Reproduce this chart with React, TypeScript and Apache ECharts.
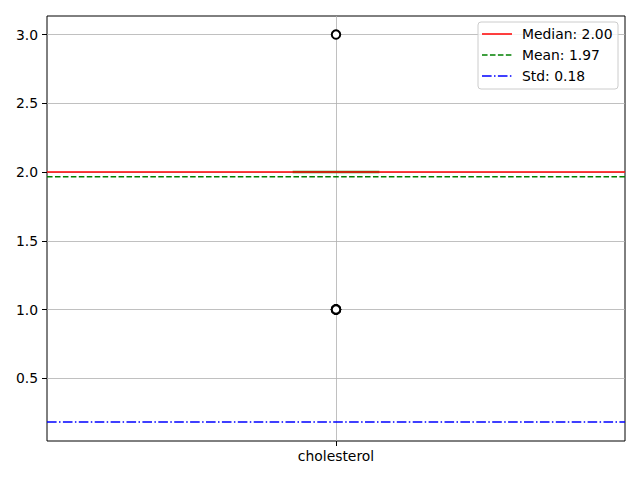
import React, { useEffect, useRef } from "react";
import * as echarts from "echarts";

const category = "cholesterol";
const categoryPos = 1;
const xRange = [0.5, 1.5];
const yRange = [0.044, 3.135];
const yTicks = [0.5, 1.0, 1.5, 2.0, 2.5, 3.0];
const boxValue = 2.0; // q1 = median = q3 = whiskers
const boxHalfWidth = 0.075;
const fliers = [3, 1, 1, 1, 1, 1];
const statLabels = ["Median: 2.00", "Mean: 1.97", "Std: 0.18"];
const statValues = [2.0, 1.9667, 0.1826];
const statColors = ["#ff0000", "#008000", "#0000ff"];
const statDashes: (number[] | "solid")[] = ["solid", [5.55, 2.4], [9.6, 2.4, 1.5, 2.4]];

const FONT = "DejaVu Sans";
const FS = 13.9;

export default function App() {
  const ref = useRef<HTMLDivElement>(null);
  useEffect(() => {
    if (!ref.current) return;
    const chart = echarts.init(ref.current, undefined, { renderer: "svg" });

    const legendX = 478;
    const legendY = 22;
    const legendGraphics: any[] = [
      {
        type: "rect",
        shape: { x: legendX, y: legendY, width: 140, height: 67, r: 3 },
        style: { fill: "rgba(255,255,255,0.8)", stroke: "#cccccc", lineWidth: 1 },
        z: 100,
      },
    ];
    statLabels.forEach((lab, i) => {
      const y = 34 + i * 21;
      legendGraphics.push({
        type: "line",
        shape: { x1: 482, y1: y, x2: 512, y2: y },
        style: {
          stroke: statColors[i],
          lineWidth: 1.5,
          lineDash: statDashes[i] === "solid" ? null : statDashes[i],
        },
        z: 101,
      });
      legendGraphics.push({
        type: "text",
        x: 522,
        y: y,
        style: {
          text: lab,
          fontFamily: FONT,
          fontSize: FS,
          fill: "#000",
          verticalAlign: "middle",
          align: "left",
        },
        z: 101,
      });
    });

    const series: any[] = [
      {
        type: "line",
        name: "grid",
        data: [],
        z: 0,
        silent: true,
        markLine: {
          z: 0,
          silent: true,
          symbol: ["none", "none"],
          label: { show: false },
          lineStyle: { color: "#b0b0b0", width: 0.8, type: "solid" },
          emphasis: { disabled: true },
          data: [
            ...yTicks.map((t) => ({ yAxis: t })),
            { xAxis: categoryPos },
          ],
        },
      },
      {
        type: "line",
        name: "box",
        data: [
          [categoryPos - boxHalfWidth, boxValue],
          [categoryPos + boxHalfWidth, boxValue],
        ],
        symbol: "none",
        lineStyle: { color: "#2ca02c", width: 2.5 },
        z: 2,
        silent: true,
      },
      ...statValues.map((v, i) => ({
        type: "line",
        name: statLabels[i],
        data: [
          [xRange[0], v],
          [xRange[1], v],
        ],
        symbol: "none",
        lineStyle: {
          color: statColors[i],
          width: 1.5,
          type: statDashes[i],
        },
        z: 3,
        silent: true,
      })),
      {
        type: "scatter",
        name: "fliers",
        data: fliers.map((f) => [categoryPos, f]),
        symbol: "emptyCircle",
        symbolSize: 8.5,
        itemStyle: { color: "#000", borderColor: "#000", borderWidth: 1, opacity: 1 },
        z: 5,
        silent: true,
      },
    ];

    chart.setOption({
      animation: false,
      grid: {
        left: 47,
        right: 15,
        top: 16,
        bottom: 39,
        show: true,
        borderColor: "#000",
        borderWidth: 1,
        backgroundColor: "transparent",
      },
      xAxis: {
        type: "value",
        min: xRange[0],
        max: xRange[1],
        axisLine: { show: false },
        splitLine: { show: false },
        axisTick: {
          show: true,
          inside: false,
          length: 5,
          lineStyle: { color: "#000" },
          customValues: [categoryPos],
        },
        axisLabel: {
          show: true,
          margin: 8,
          color: "#000",
          fontFamily: FONT,
          fontSize: FS,
          customValues: [categoryPos],
          formatter: (v: number) => (Math.abs(v - categoryPos) < 1e-9 ? category : ""),
        },
      },
      yAxis: {
        type: "value",
        min: yRange[0],
        max: yRange[1],
        axisLine: { show: false },
        splitLine: { show: false },
        axisTick: {
          show: true,
          length: 5,
          lineStyle: { color: "#000" },
          customValues: yTicks,
        },
        axisLabel: {
          show: true,
          margin: 9,
          color: "#000",
          fontFamily: FONT,
          fontSize: FS,
          customValues: yTicks,
          formatter: (v: number) => v.toFixed(1),
        },
      },
      series,
      graphic: legendGraphics,
    });
    return () => chart.dispose();
  }, []);
  return <div ref={ref} style={{ width: 640, height: 480, position: "absolute", left: 0, top: 0 }} />;
}
